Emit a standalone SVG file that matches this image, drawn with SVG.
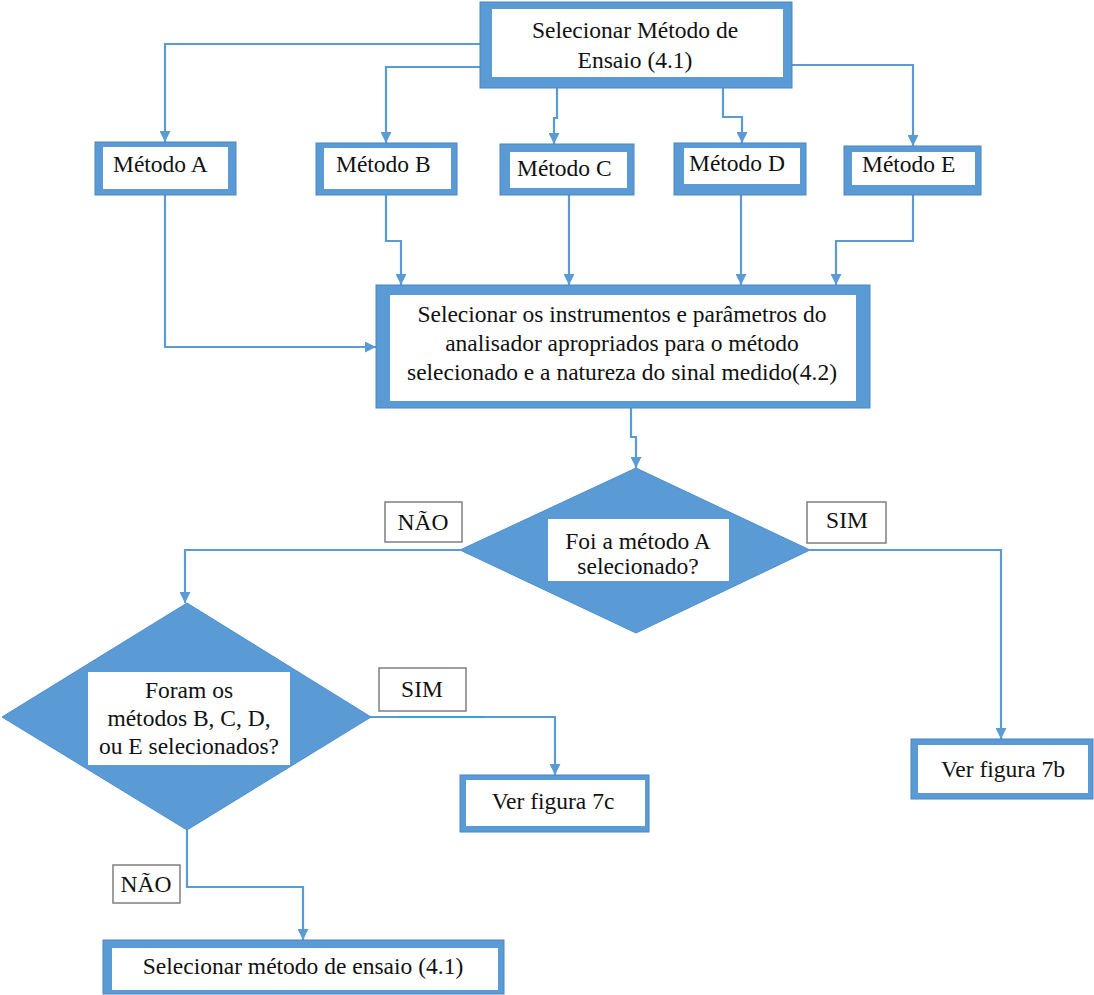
<svg xmlns="http://www.w3.org/2000/svg" width="1094" height="995" viewBox="0 0 1094 995">
<defs>
<style>
.frame{fill:#5b9bd5;stroke:#4a86c2;stroke-width:1}
.inner{fill:#ffffff}
.dia{fill:#5b9bd5;stroke:#4f8fcc;stroke-width:1}
.lbl{fill:#ffffff;stroke:#7f7f7f;stroke-width:1.5}
.t{font-family:'Liberation Serif','Times New Roman',Times,serif;font-size:23.5px;fill:#111}
.m{text-anchor:middle}
.conn{fill:none;stroke:#5b9bd5;stroke-width:2.2}
</style>
<marker id="ah" viewBox="0 0 10 10" refX="10" refY="5" markerWidth="12" markerHeight="11" markerUnits="userSpaceOnUse" orient="auto">
<path d="M0,0 L10,5 L0,10 z" fill="#5b9bd5"/>
</marker>
</defs>
<rect width="1094" height="995" fill="#ffffff"/>

<g id="connectors">
<path class="conn" d="M480,44 H165 V142" marker-end="url(#ah)"/>
<path class="conn" d="M480,67 H386 V143" marker-end="url(#ah)"/>
<path class="conn" d="M557,88 V118 H554 V144" marker-end="url(#ah)"/>
<path class="conn" d="M723,88 V117 H742 V143" marker-end="url(#ah)"/>
<path class="conn" d="M792,65 H913 V146" marker-end="url(#ah)"/>
<path class="conn" d="M165,195 V347 H376" marker-end="url(#ah)"/>
<path class="conn" d="M386,195 V241 H401 V285" marker-end="url(#ah)"/>
<path class="conn" d="M569,195 V285" marker-end="url(#ah)"/>
<path class="conn" d="M741,195 V285" marker-end="url(#ah)"/>
<path class="conn" d="M913,195 V241 H836 V285" marker-end="url(#ah)"/>
<path class="conn" d="M631,408 V437 H636 V468" marker-end="url(#ah)"/>
<path class="conn" d="M810,550 H1001 V739" marker-end="url(#ah)"/>
<path class="conn" d="M460,550 H185 V603" marker-end="url(#ah)"/>
<path class="conn" d="M370,717 H555 V775" marker-end="url(#ah)"/>
<path d="M398,717 H485" fill="none" stroke="#2aa0e0" stroke-width="1.6"/>
<path class="conn" d="M187,830 V887 H303 V940" marker-end="url(#ah)"/>
</g>

<g font-family="Liberation Serif, serif" font-size="23.5">
<g id="node-top">
<rect class="frame" x="480" y="2" width="312" height="86"/>
<rect class="inner" x="492" y="9" width="291" height="68"/>
<text class="t m" x="635" y="38">Selecionar Método de</text>
<text class="t m" x="635" y="68">Ensaio (4.1)</text>
</g>

<g id="node-a">
<rect class="frame" x="95" y="142" width="141" height="53"/>
<rect class="inner" x="103" y="147" width="125" height="42"/>
<text class="t" x="113" y="172">Método A</text>
</g>
<g id="node-b">
<rect class="frame" x="316" y="143" width="141" height="52"/>
<rect class="inner" x="324" y="148" width="127" height="41"/>
<text class="t" x="336" y="172">Método B</text>
</g>
<g id="node-c">
<rect class="frame" x="500" y="144" width="134" height="51"/>
<rect class="inner" x="510" y="152" width="117" height="36"/>
<text class="t" x="517" y="176">Método C</text>
</g>
<g id="node-d">
<rect class="frame" x="674" y="143" width="132" height="52"/>
<rect class="inner" x="684" y="148" width="116" height="36"/>
<text class="t" x="689" y="171">Método D</text>
</g>
<g id="node-e">
<rect class="frame" x="844" y="146" width="137" height="49"/>
<rect class="inner" x="852" y="152" width="123" height="33"/>
<text class="t" x="862" y="172">Método E</text>
</g>

<g id="node-instr">
<rect class="frame" x="376" y="285" width="494" height="123"/>
<rect class="inner" x="390" y="295" width="466" height="106"/>
<text class="t m" x="622" y="322">Selecionar os instrumentos e parâmetros do</text>
<text class="t m" x="622" y="351">analisador apropriados para o método</text>
<text class="t m" x="622" y="380">selecionado e a natureza do sinal medido(4.2)</text>
</g>

<g id="node-decA">
<polygon class="dia" points="636,468 810,550 636,633 460,550"/>
<rect class="inner" x="548" y="519" width="181" height="62"/>
<text class="t m" x="638" y="549">Foi a método A</text>
<text class="t m" x="638" y="574">selecionado?</text>
</g>

<g id="label-nao1">
<rect class="lbl" x="385" y="502" width="77" height="40"/>
<text class="t m" x="423" y="530">NÃO</text>
</g>
<g id="label-sim1">
<rect class="lbl" x="807" y="502" width="79" height="41"/>
<text class="t m" x="847" y="528">SIM</text>
</g>

<g id="node-7b">
<rect class="frame" x="911" y="739" width="182" height="60"/>
<rect class="inner" x="918" y="745" width="170" height="48"/>
<text class="t m" x="1003" y="777">Ver figura 7b</text>
</g>

<g id="node-decBCDE">
<polygon class="dia" points="187,603 371,717 187,830 2,717"/>
<rect class="inner" x="88" y="672" width="202" height="93"/>
<text class="t m" x="189" y="698">Foram os</text>
<text class="t m" x="189" y="726">métodos B, C, D,</text>
<text class="t m" x="189" y="754">ou E selecionados?</text>
</g>

<g id="label-sim2">
<rect class="lbl" x="379" y="668" width="87" height="43"/>
<text class="t m" x="422" y="697">SIM</text>
</g>

<g id="node-7c">
<rect class="frame" x="460" y="775" width="189" height="57"/>
<rect class="inner" x="466" y="780" width="179" height="46"/>
<text class="t m" x="553" y="809">Ver figura 7c</text>
</g>

<g id="label-nao2">
<rect class="lbl" x="113" y="865" width="67" height="38"/>
<text class="t m" x="146" y="892">NÃO</text>
</g>

<g id="node-bottom">
<rect class="frame" x="103" y="940" width="401" height="54"/>
<rect class="inner" x="112" y="948" width="386" height="42"/>
<text class="t m" x="303" y="974">Selecionar método de ensaio (4.1)</text>
</g>
</g>
</svg>
